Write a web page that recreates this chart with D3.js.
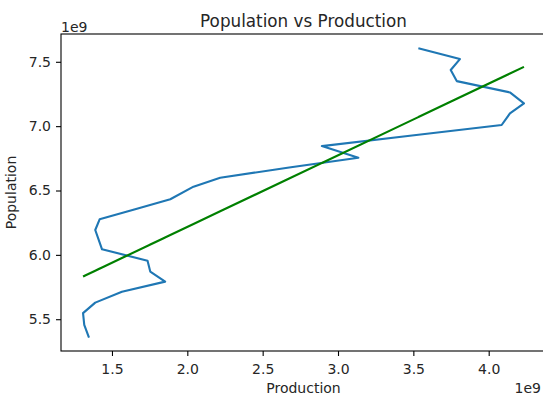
<!DOCTYPE html>
<html>
<head>
<meta charset="utf-8">
<script src="https://cdn.jsdelivr.net/npm/d3@7"></script>
<style>
  html, body { margin: 0; padding: 0; background: #fff; }
  svg { display: block; font-family: "DejaVu Sans", sans-serif; }
</style>
</head>
<body>
<svg id="chart" width="543" height="396"></svg>
<script>
// Production (x, in units of 1e9) in data order
const production = [1.345, 1.316, 1.308, 1.389, 1.566, 1.853, 1.754, 1.736, 1.434, 1.412,
  1.389, 1.418, 1.648, 1.887, 2.041, 2.218, 2.676, 3.135, 2.893, 3.491,
  4.086, 4.141, 4.234, 4.141, 3.788, 3.748, 3.809, 3.540];
// Population (y, in units of 1e9)
const population = [5.365, 5.456, 5.547, 5.629, 5.714, 5.792, 5.870, 5.955, 6.043, 6.116,
  6.193, 6.276, 6.352, 6.432, 6.530, 6.599, 6.679, 6.755, 6.845, 6.927,
  7.009, 7.099, 7.177, 7.262, 7.350, 7.436, 7.521, 7.604];
const xTicks = [1.5, 2.0, 2.5, 3.0, 3.5, 4.0];
const yTicks = [5.5, 6.0, 6.5, 7.0, 7.5];
const titleText = "Population vs Production";
const xLabel = "Production";
const yLabel = "Population";
const offsetText = "1e9";

(function () {
const svg = d3.select("#chart");
const mLeft = 61, mRight = 546, mTop = 34, mBottom = 351;

function padded(arr) {
  const [a, b] = d3.extent(arr);
  const m = (b - a) * 0.05;
  return [a - m, b + m];
}
const x = d3.scaleLinear().domain(padded(production)).range([mLeft, mRight]);
const y = d3.scaleLinear().domain(padded(population)).range([mBottom, mTop]);

// least squares fit
const mx = d3.mean(production), my = d3.mean(population);
let sxy = 0, sxx = 0;
production.forEach((v, i) => { sxy += (v - mx) * (population[i] - my); sxx += (v - mx) * (v - mx); });
const slope = sxy / sxx, intercept = my - slope * mx;

const pts = production.map((v, i) => [v, population[i]]);

svg.append("path")
  .attr("d", d3.line().x(d => x(d[0])).y(d => y(d[1]))(pts))
  .attr("fill", "none").attr("stroke", "#1f77b4").attr("stroke-width", 2.1)
  .attr("stroke-linejoin", "round").attr("stroke-linecap", "square");

svg.append("path")
  .attr("d", d3.line().x(d => x(d)).y(d => y(intercept + slope * d))(production))
  .attr("fill", "none").attr("stroke", "green").attr("stroke-width", 2.1)
  .attr("stroke-linecap", "square");

const xAxis = svg.append("g").attr("transform", `translate(0,${mBottom})`)
  .call(d3.axisBottom(x).tickValues(xTicks).tickFormat(d3.format(".1f")).tickSize(5).tickPadding(5));
const yAxis = svg.append("g").attr("transform", `translate(${mLeft},0)`)
  .call(d3.axisLeft(y).tickValues(yTicks).tickFormat(d3.format(".1f")).tickSize(5).tickPadding(5));
[xAxis, yAxis].forEach(g => {
  g.select(".domain").remove();
  g.selectAll("line").attr("stroke", "#000").attr("stroke-width", 1.1);
  g.selectAll("text").attr("font-family", "DejaVu Sans").attr("font-size", 14).attr("fill", "#262626");
});
xAxis.selectAll("text").attr("dy", "0.95em");

svg.append("rect").attr("x", mLeft).attr("y", mTop).attr("width", mRight - mLeft).attr("height", mBottom - mTop)
  .attr("fill", "none").attr("stroke", "#000").attr("stroke-width", 1.1);

svg.append("text").attr("x", (mLeft + mRight) / 2).attr("y", 26.5).attr("text-anchor", "middle")
  .attr("font-size", 16.8).attr("fill", "#262626").text(titleText);
svg.append("text").attr("x", (mLeft + mRight) / 2).attr("y", 393).attr("text-anchor", "middle")
  .attr("font-size", 14).attr("fill", "#262626").text(xLabel);
svg.append("text").attr("transform", `translate(16,${(mTop + mBottom) / 2}) rotate(-90)`)
  .attr("text-anchor", "middle").attr("font-size", 14).attr("fill", "#262626").text(yLabel);
svg.append("text").attr("x", mLeft).attr("y", 31.5).attr("font-size", 14).attr("fill", "#262626").text(offsetText);
svg.append("text").attr("x", 541).attr("y", 393).attr("text-anchor", "end")
  .attr("font-size", 14).attr("fill", "#262626").text(offsetText);
})();
</script>
</body>
</html>
